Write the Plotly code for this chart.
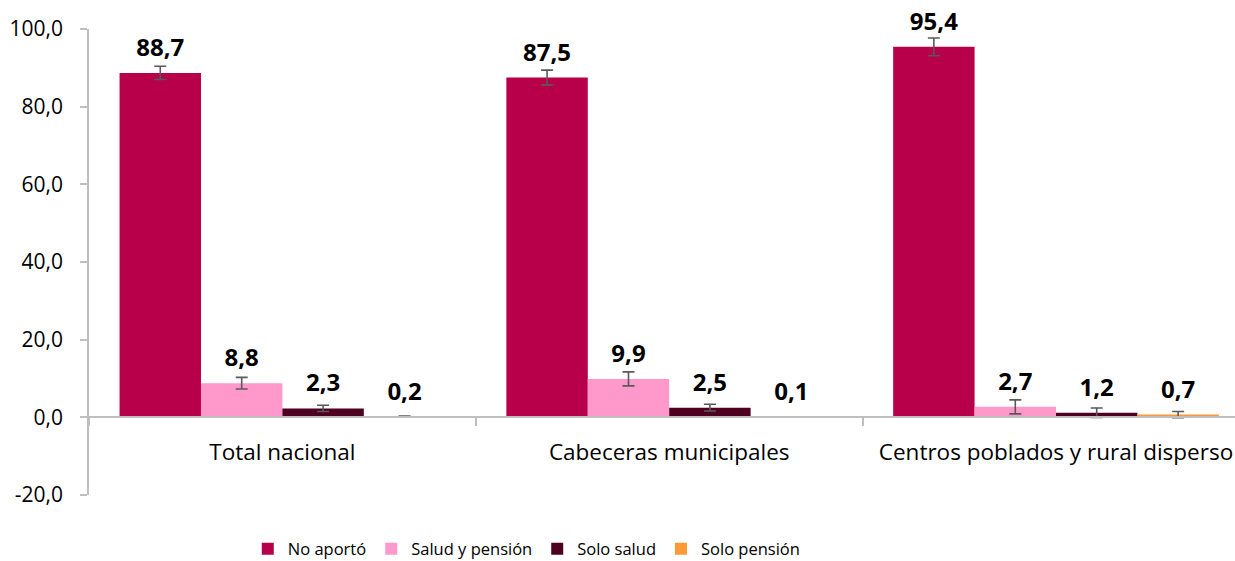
import plotly.graph_objects as go

categories = ["Total nacional", "Cabeceras municipales", "Centros poblados y rural disperso"]
series_names = ["No aportó", "Salud y pensión", "Solo salud", "Solo pensión"]
no_aporto = [88.7, 87.5, 95.4]
salud_pension = [8.8, 9.9, 2.7]
solo_salud = [2.3, 2.5, 1.2]
solo_pension = [0.2, 0.1, 0.7]
err_no_aporto = [1.7, 1.9, 2.3]
err_salud_pension = [1.5, 1.8, 1.8]
err_solo_salud = [0.8, 0.85, 1.2]
err_solo_pension = [0.1, 0.05, 0.8]
y_ticks = [-20, 0, 20, 40, 60, 80, 100]
y_tick_labels = ["-20,0", "0,0", "20,0", "40,0", "60,0", "80,0", "100,0"]

colors = ["#B70049", "#FF99CC", "#4D0020", "#FF9933"]
values = [no_aporto, salud_pension, solo_salud, solo_pension]
errors = [err_no_aporto, err_salud_pension, err_solo_salud, err_solo_pension]

FONT = "Open Sans"

fig = go.Figure()
for name, vals, errs, col in zip(series_names, values, errors, colors):
    fig.add_trace(go.Bar(
        x=categories, y=vals, name=name, marker=dict(color=col, line=dict(width=0)),
        offsetgroup=name,
        error_y=dict(type="data", array=errs, visible=True, color="#595959", thickness=1.6, width=6),
    ))
for name, vals in zip(series_names, values):
    fig.add_trace(go.Scatter(
        x=categories, y=vals, mode="markers+text", showlegend=False, hoverinfo="skip",
        offsetgroup=name, cliponaxis=False,
        marker=dict(size=16, opacity=0),
        text=["<b>" + f"{v:.1f}".replace(".", ",") + "</b>" for v in vals],
        textposition="top center",
        textfont=dict(family=FONT, size=24, color="#000000"),
    ))

x_end = -0.5 + (1235 - 89) / 386.8
fig.update_layout(
    width=1235, height=561,
    margin=dict(l=89, r=0, t=29, b=66, autoexpand=False),
    paper_bgcolor="white", plot_bgcolor="white",
    barmode="group", bargap=0.158, bargroupgap=0,
    scattermode="group", scattergap=0.158,
    font=dict(family=FONT, size=16, color="#000000"),
    legend=dict(orientation="h", x=0.382, xanchor="center", y=-0.116, yanchor="middle",
                font=dict(family=FONT, size=16.5, color="#000000"), itemwidth=30,
                traceorder="normal"),
    xaxis=dict(range=[-0.5, x_end], showgrid=False, showline=True, linecolor="#BFBFBF", linewidth=1.5,
               ticks="outside", tickson="boundaries", ticklen=8, tickcolor="#BFBFBF", tickwidth=1.5,
               anchor="free", position=(495 - 417) / 466, ticklabelstandoff=15,
               tickfont=dict(family=FONT, size=22.5, color="#000000")),
    yaxis=dict(range=[-20, 100], tickvals=y_ticks, ticktext=y_tick_labels, showgrid=False, zeroline=False,
               showline=True, linecolor="#BFBFBF", linewidth=1.5, ticks="outside", ticklen=7,
               tickcolor="#BFBFBF", tickwidth=1.5, ticklabelstandoff=13,
               tickfont=dict(family=FONT, size=21, color="#000000")),
)
fig.write_html("out.html", config={"displayModeBar": False},
               post_script="document.body.style.margin='0';document.body.style.overflow='hidden';")
